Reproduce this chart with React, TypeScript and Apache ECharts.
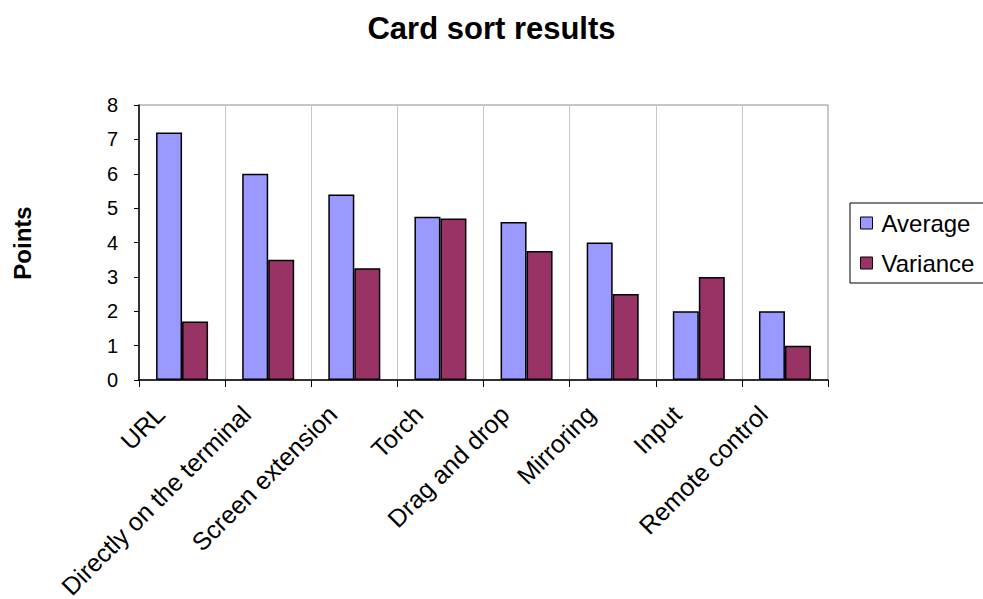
import React, { useEffect, useRef } from "react";
import * as echarts from "echarts";

const categories = [
  "URL",
  "Directly on the terminal",
  "Screen extension",
  "Torch",
  "Drag and drop",
  "Mirroring",
  "Input",
  "Remote control",
];
const averageValues = [7.2, 6.0, 5.4, 4.75, 4.6, 4.0, 2.0, 2.0];
const varianceValues = [1.7, 3.5, 3.25, 4.7, 3.75, 2.5, 3.0, 1.0];
const seriesNames = ["Average", "Variance"];
const yTicks = { min: 0, max: 8, interval: 1 };

const FONT = "Liberation Sans, Arial, sans-serif";

export default function App() {
  const ref = useRef<HTMLDivElement>(null);
  useEffect(() => {
    document.body.style.margin = "0";
    const chart = echarts.init(ref.current!, undefined, { renderer: "svg" });
    chart.setOption({
      animation: false,
      backgroundColor: "#ffffff",
      title: {
        text: "Card sort results",
        left: "center",
        top: 8,
        textStyle: { fontFamily: FONT, fontSize: 31, fontWeight: "bold", color: "#000" },
      },
      graphic: [
        {
          type: "text",
          x: 22,
          y: 243,
          rotation: Math.PI / 2,
          style: {
            text: "Points",
            fontFamily: FONT,
            fontSize: 24,
            fontWeight: "bold",
            fill: "#000",
            align: "center",
            verticalAlign: "middle",
          },
        },
      ],
      legend: {
        orient: "vertical",
        left: 850,
        top: 203,
        data: seriesNames,
        icon: "rect",
        itemWidth: 12,
        itemHeight: 12,
        itemGap: 14,
        padding: [7, 40, 7, 10],
        borderColor: "#000",
        borderWidth: 1,
        itemStyle: { borderColor: "#000", borderWidth: 1 },
        textStyle: { fontFamily: FONT, fontSize: 24, color: "#000", lineHeight: 26, padding: [0, 0, 0, 4] },
      },
      grid: {
        left: 139,
        right: 155,
        top: 105,
        bottom: 219,
        containLabel: false,
        outerBoundsMode: "none",
        show: true,
        borderColor: "#8c8c8c",
        borderWidth: 1,
        backgroundColor: "transparent",
      },
      xAxis: {
        type: "category",
        data: categories,
        axisLine: { lineStyle: { color: "#000", width: 1.5 } },
        axisTick: { show: true, interval: 0, length: 7, lineStyle: { color: "#000" } },
        splitLine: { show: true, interval: 0, lineStyle: { color: "#c8c8c8", width: 1 } },
        axisLabel: {
          interval: 0,
          rotate: 45,
          margin: 8,
          padding: [0, 31, 0, 0],
          fontFamily: FONT,
          fontSize: 25,
          color: "#000",
        },
      },
      yAxis: {
        type: "value",
        min: yTicks.min,
        max: yTicks.max,
        interval: yTicks.interval,
        axisLine: { show: true, lineStyle: { color: "#000", width: 1.5 } },
        axisTick: { show: true, length: 5, lineStyle: { color: "#000" } },
        splitLine: { show: false },
        axisLabel: { fontFamily: FONT, fontSize: 20, color: "#000", margin: 21 },
      },
      series: [
        {
          name: seriesNames[0],
          type: "bar",
          data: averageValues,
          barWidth: 26,
          barGap: "0%",
          itemStyle: { color: "#9999FF", borderColor: "#000", borderWidth: 1.5 },
        },
        {
          name: seriesNames[1],
          type: "bar",
          data: varianceValues,
          barWidth: 26,
          barGap: "0%",
          itemStyle: { color: "#993366", borderColor: "#000", borderWidth: 1.5 },
        },
      ],
    });
    return () => chart.dispose();
  }, []);
  return <div ref={ref} style={{ width: 983, height: 599 }} />;
}
